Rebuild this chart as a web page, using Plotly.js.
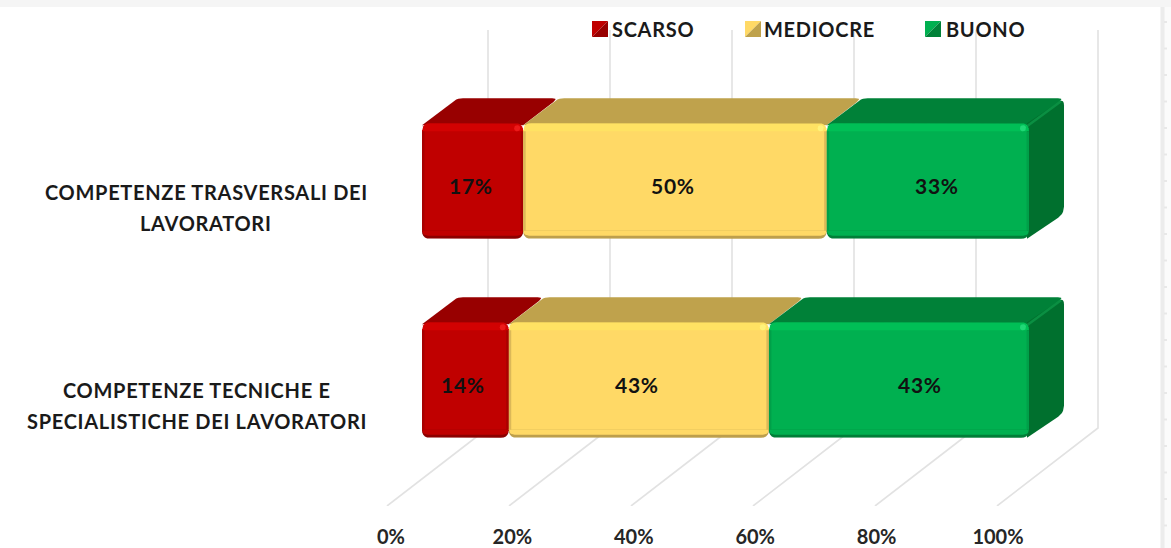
<!DOCTYPE html>
<html><head><meta charset="utf-8">
<script src="https://cdn.plot.ly/plotly-3.0.1.min.js"></script>
<style>html,body{margin:0;padding:0;background:#fff}#chart{width:1171px;height:548px}
.xtick text{letter-spacing:1px}
.annotation-text{letter-spacing:.7px}
</style>
</head><body><div id="chart"></div>
<script>
// ---------- data ----------
const categoryLines = [['COMPETENZE TECNICHE E','SPECIALISTICHE DEI LAVORATORI'], ['COMPETENZE TRASVERSALI DEI','LAVORATORI']];
const categoryPos = [0, 1];
const seriesNames = ['SCARSO', 'MEDIOCRE', 'BUONO'];
const scarso = [14.29, 16.67];
const mediocre = [42.86, 50];
const buono = [42.85, 33.33];
const scarsoLabels = ['14%', '17%'];
const mediocreLabels = ['43%', '50%'];
const buonoLabels = ['43%', '33%'];
const axisTicks = [0, 20, 40, 60, 80, 100];

// ---------- style ----------
const font = 'Lato, "Open Sans", sans-serif';
const palette = [
  {front:'#c00000', top:'#980000', side:'#7d0000', hi:'#d20202', lo:'#8c0000', edge:'#a80000', spot:'#ec1a1a'},
  {front:'#ffd966', top:'#bfa24c', side:'#a88c3e', hi:'#ffe263', lo:'#bd9f4c', edge:'#dcb858', spot:'#fff27a'},
  {front:'#00b050', top:'#008138', side:'#00702e', hi:'#00bf56', lo:'#007f38', edge:'#00a049', spot:'#1fd876'}
];
// pixel nudges of the value labels [category][series]
const labelNudge = [[-2,-2,21],[-2,-2,9]];
const categoryCentre = [197, 206];
const W = 1171, H = 548;
const plot = {l:372, r:1110, t:20, b:506};
const pxX = 6.07, pxY = 199;
const x0Px = 422, y0Px = 380;
const xRange = [(plot.l-x0Px)/pxX, (plot.r-x0Px)/pxX];
const yRange = [(y0Px-plot.b)/pxY, (y0Px-plot.t)/pxY];
const depth = {x:35, y:25};
const barH = 115.5, bev = 7;
const xLabelShift = -31;

function rounded(pts, radii){
  const out=[]; const n=pts.length;
  pts.forEach((p,i)=>{
    const r=Array.isArray(radii)?radii[i]:radii;
    const a=pts[(i-1+n)%n], b=pts[(i+1)%n];
    if(!r){out.push(p);return;}
    const la=Math.hypot(a[0]-p[0],a[1]-p[1]), lb=Math.hypot(b[0]-p[0],b[1]-p[1]);
    const s=[p[0]+(a[0]-p[0])/la*r,p[1]+(a[1]-p[1])/la*r];
    const e=[p[0]+(b[0]-p[0])/lb*r,p[1]+(b[1]-p[1])/lb*r];
    for(let t=0;t<=1.0001;t+=0.2){
      const u=1-t;
      out.push([u*u*s[0]+2*u*t*p[0]+t*t*e[0],u*u*s[1]+2*u*t*p[1]+t*t*e[1]]);
    }
  });
  return out;
}
function poly(pts, radii, color){
  const r=rounded(pts,radii);
  const xs=r.map(p=>p[0]/pxX), ys=r.map(p=>-p[1]/pxY);
  xs.push(xs[0]); ys.push(ys[0]);
  return {type:'scatter',mode:'lines',x:xs,y:ys,fill:'toself',fillcolor:color,
          line:{width:0,color:color},hoverinfo:'skip',showlegend:false,xaxis:'x',yaxis:'y'};
}

const seriesValues=[scarso,mediocre,buono];
const seriesLabels=[scarsoLabels,mediocreLabels,buonoLabels];
const traces=[];

// front faces: real stacked bars
seriesNames.forEach((name,s)=>{
  traces.push({type:'bar',orientation:'h',name:name,x:seriesValues[s],y:categoryPos,
    width:(barH-2*bev)/pxY,marker:{color:palette[s].front,line:{width:0}},
    hoverinfo:'name+x',showlegend:false,xaxis:'x',yaxis:'y'});
});
const annotations=[];
// projected faces and bevels
categoryPos.forEach((c,i)=>{
  let acc=0;
  const cy=-c*pxY, t=cy-barH/2, b=cy+barH/2;
  seriesValues.forEach((vals,s)=>{
    const a=acc*pxX, e=(acc+vals[i])*pxX, col=palette[s];
    const mid=acc+vals[i]/2;
    acc+=vals[i];
    traces.push(poly([[a,t+2],[a+depth.x,t-depth.y],[e+depth.x,t-depth.y],[e,t+2]],[0,6,6,0],col.top));
    if(s===seriesValues.length-1){
      traces.push(poly([[e-2,t],[e+depth.x,t-depth.y],[e+depth.x,b-depth.y],[e-2,b]],[0,7,7,0],col.side));
      traces.push({type:'scatter',mode:'lines',x:[(e-2)/pxX,(e+depth.x-3)/pxX],y:[-(t+3)/pxY,-(t-depth.y+3)/pxY],
        line:{color:'#0a8f42',width:2.5},hoverinfo:'skip',showlegend:false});
    }
    traces.push(poly([[a,t],[e,t],[e,t+bev+1],[a,t+bev+1]],[8,8,0,0],col.hi));
    traces.push(poly([[a,b-bev-1],[e,b-bev-1],[e,b],[a,b]],[0,0,8,8],col.lo));
    traces.push(poly([[a,b-bev-1],[e,b-bev-1],[e,b-3],[a,b-3]],[0,0,6,6],col.front));
    traces.push(poly([[a,t+bev+1],[a+2.5,t+bev+1],[a+2.5,b-bev-1],[a,b-bev-1]],0,col.edge));
    traces.push(poly([[e-2.5,t+bev+1],[e,t+bev+1],[e,b-bev-1],[e-2.5,b-bev-1]],0,col.edge));
    traces.push(poly([[e-9,t+2],[e-3,t+2],[e-3,t+8],[e-9,t+8]],3,col.spot));
    annotations.push({xref:'x',yref:'y',x:mid,y:c,xshift:labelNudge[i][s],yshift:-4,showarrow:false,
      text:seriesLabels[s][i],font:{family:font,size:21,color:'#111',weight:700}});
  });
  // category labels, one per line: real line gap is wider than Plotly's default
  categoryLines[i].forEach((line,k)=>{
    annotations.push({xref:'paper',yref:'y',x:(categoryCentre[i]-plot.l)/(plot.r-plot.l),y:c,
      yshift:-(9.5+i*1+k*(31.5)),xanchor:'center',yanchor:'middle',showarrow:false,text:line,
      font:{family:font,size:20,color:'#1a1a1a',weight:700}});
  });
});
// invisible trace carrying the labelled axis
traces.push({type:'scatter',mode:'markers',x:axisTicks,y:axisTicks.map(()=>0),
  marker:{opacity:0,size:1},hoverinfo:'skip',showlegend:false,xaxis:'x2',yaxis:'y'});

function pX(p){return (p-plot.l)/(plot.r-plot.l);}
function pY(p){return (plot.b-p)/(plot.b-plot.t);}
const rect=(x0,y0,x1,y1,c)=>({type:'rect',xref:'paper',yref:'paper',layer:'below',
  x0:pX(x0),x1:pX(x1),y0:pY(y1),y1:pY(y0),fillcolor:c,line:{width:0}});
const shapes=[
  rect(0,0,W,7,'#f5f5f5'),
  rect(1163,7,W,H,'#fbfbfb'),
  rect(1160.5,7,1164.5,H,'#ececec')
];
for(let y=22;y<H;y+=26.5) shapes.push(rect(1164,y-1,1167,y+1,'#e8e8e8'));

// gridlines of the projected wall and floor, from the axis scale
const floorBack = 428, wallTop = 30;
axisTicks.forEach(v=>{
  const bx=(v*pxX+66+(v/100)*3)/pxX, fx=(v*pxX-35+(v/100)*3)/pxX;
  shapes.push({type:'path',xref:'x',yref:'y',layer:'below',line:{color:'#e2e2e2',width:1.6},
    path:`M${bx},${(y0Px-wallTop)/pxY}L${bx},${(y0Px-floorBack)/pxY}L${fx},${(y0Px-506)/pxY}`});
});

// legend drawn by hand: diagonal swatches hug their text
const swatchX=[592,745,925], swatchSize=16, swatchY=21;
const legendText=[612,764,946];
seriesNames.forEach((n,i)=>{
  const sx=swatchX[i], sw=swatchSize, sy=swatchY;
  const tri=(pts,c)=>({type:'path',xref:'paper',yref:'paper',fillcolor:c,line:{width:0},
    path:'M'+pts.map(p=>pX(p[0]).toFixed(5)+','+pY(p[1]).toFixed(5)).join('L')+'Z'});
  shapes.push(tri([[sx,sy],[sx+sw,sy],[sx,sy+sw]],palette[i].front));
  shapes.push(tri([[sx+sw,sy],[sx+sw,sy+sw],[sx,sy+sw]],palette[i].top));
  annotations.push({xref:'paper',yref:'paper',x:pX(legendText[i]),y:pY(29),xanchor:'left',yanchor:'middle',
    showarrow:false,text:n,font:{family:font,size:20,color:'#1a1a1a',weight:700},xshift:-2});
});

const layout={
  width:W,height:H,paper_bgcolor:'#fff',plot_bgcolor:'rgba(0,0,0,0)',
  margin:{l:plot.l,r:W-plot.r,t:plot.t,b:H-plot.b,pad:0,autoexpand:false},
  barmode:'stack',showlegend:false,
  xaxis:{range:xRange,showgrid:false,zeroline:false,showticklabels:false,ticks:'',showline:false,fixedrange:true},
  yaxis:{range:yRange,showgrid:false,zeroline:false,showticklabels:false,ticks:'',showline:false,fixedrange:true},
  xaxis2:{overlaying:'x',anchor:'y',side:'bottom',
    range:[(plot.l-x0Px-xLabelShift)/pxX,(plot.r-x0Px-xLabelShift)/pxX],
    tickmode:'array',tickvals:axisTicks,ticktext:axisTicks.map(v=>v+'%'),
    showgrid:false,zeroline:false,showline:false,ticks:'',ticklabelstandoff:17,
    tickfont:{family:font,size:20,color:'#262626',weight:700},fixedrange:true},
  shapes:shapes,annotations:annotations
};
Plotly.newPlot('chart',traces,layout,{displayModeBar:false,responsive:false});
</script></body></html>
